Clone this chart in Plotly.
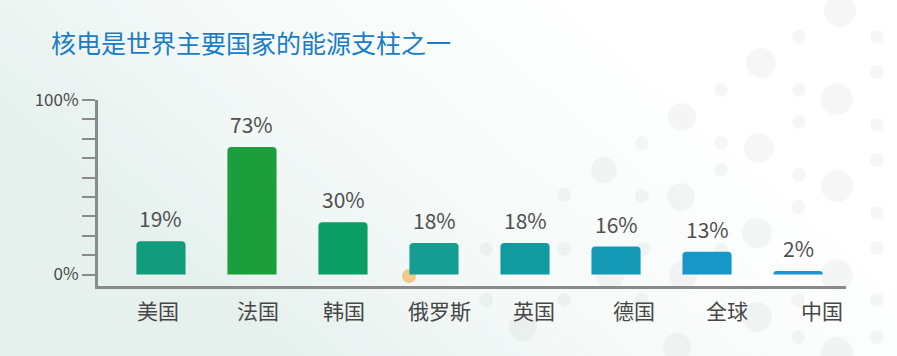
import base64
import plotly.graph_objects as go

# ---- data ----
countries = ["美国", "法国", "韩国", "俄罗斯", "英国", "德国", "全球", "中国"]
shares = [19, 73, 30, 18, 18, 16, 13, 2]
value_labels = ["19%", "73%", "30%", "18%", "18%", "16%", "13%", "2%"]
y_tick_vals = [0, 100]
y_tick_text = ["0%", "100%"]
title_text = "核电是世界主要国家的能源支柱之一"

# ---- style ----
bar_colors = ["#139C7C", "#1C9E3C", "#0A9E64", "#159D92",
              "#119AA0", "#1499B6", "#1796C8", "#1F91D6"]
label_xshift = [-3, 6, 1, 5, 9, 18, 20, 24]
FONT = "Noto Sans CJK SC, Noto Sans, sans-serif"
W, H = 897, 356

# decorative background (gradient + faint dots)
dots = [
    (840, 11, 16), (799, 37, 7), (877, 37, 7), (761, 63, 15), (877, 72, 7),
    (721, 90, 7), (799, 90, 7), (837, 99, 16), (682, 117, 14), (799, 122, 7),
    (877, 125, 7), (642, 143, 7), (721, 143, 7), (759, 148, 15), (604, 170, 13),
    (721, 170, 7), (877, 160, 7), (799, 175, 7), (837, 186, 16), (564, 195, 7),
    (642, 196, 7), (681, 197, 14), (798, 207, 7), (877, 213, 7), (486, 249, 7),
    (564, 249, 7), (643, 249, 7), (757, 233, 15), (837, 275, 16), (877, 248, 7),
    (683, 275, 14), (610, 275, 14), (486, 300, 7), (564, 300, 7), (717, 313, 7),
    (757, 317, 15), (798, 300, 7), (877, 300, 7), (523, 327, 14), (677, 347, 14),
    (798, 337, 7), (837, 353, 16), (877, 337, 7), (642, 300, 7), (721, 250, 7),
]
circles = "".join(
    f'<circle cx="{x}" cy="{y}" r="{r}" fill="#000" fill-opacity="0.035"/>'
    for x, y, r in dots
)
svg = (
    f'<svg xmlns="http://www.w3.org/2000/svg" width="{W}" height="{H}" viewBox="0 0 {W} {H}">'
    '<defs><linearGradient id="g" x1="0" y1="0.3" x2="0.65" y2="0">'
    '<stop offset="0" stop-color="#E6F1EE"/>'
    '<stop offset="0.4" stop-color="#F4F9F8"/>'
    '<stop offset="1" stop-color="#FFFFFF"/>'
    '</linearGradient></defs>'
    f'<rect width="{W}" height="{H}" fill="url(#g)"/>'
    f'{circles}'
    '<circle cx="409" cy="276" r="7" fill="#F2C98A"/>'
    '</svg>'
)
bg_uri = "data:image/svg+xml;base64," + base64.b64encode(svg.encode("utf-8")).decode()

# plot area geometry in pixels
x_left, x_right = 98, 846
y_top, y_bottom = 100, 286
zero_px = 274.5
px_per_pct = (zero_px - y_top) / 100.0
y_min = -(y_bottom - zero_px) / px_per_pct

fig = go.Figure()
fig.add_trace(go.Bar(
    x=countries, y=shares,
    marker=dict(color=bar_colors, line=dict(width=0)),
    width=0.54,
    hoverinfo="skip",
))

annotations = []
for c, v, t in zip(countries, shares, value_labels):
    annotations.append(dict(
        x=c, y=v, xref="x", yref="y", text=t, showarrow=False,
        yanchor="bottom", yshift=6,
        font=dict(family=FONT, size=21, color="#4F4F4F"),
    ))
for c, dx in zip(countries, label_xshift):
    annotations.append(dict(
        x=c, y=1 - 310 / H, xref="x", yref="paper",
        yanchor="middle", text=c, showarrow=False, xshift=dx,
        font=dict(family=FONT, size=21, color="#474747"),
    ))
annotations.append(dict(
    x=49 / W, y=1 - 42 / H, xref="paper", yref="paper",
    xanchor="left", yanchor="middle", text=title_text, showarrow=False,
    font=dict(family=FONT, size=25, color="#1A7DC8"),
))

fig.update_layout(
    width=W, height=H,
    margin=dict(l=0, r=0, t=0, b=0, pad=0, autoexpand=False),
    paper_bgcolor="#FFFFFF",
    plot_bgcolor="rgba(0,0,0,0)",
    showlegend=False,
    barcornerradius=4,
    images=[dict(source=bg_uri, xref="paper", yref="paper", x=0, y=1,
                 sizex=1, sizey=1, sizing="stretch", layer="below",
                 xanchor="left", yanchor="top")],
    annotations=annotations,
    xaxis=dict(
        domain=[x_left / W, x_right / W],
        range=[-0.692, 7.527],
        showticklabels=False, ticks="", automargin=False,
        showline=True, linecolor="#8A8A8A", linewidth=3,
        showgrid=False, zeroline=False, fixedrange=True,
    ),
    yaxis=dict(
        domain=[(H - y_bottom) / H, (H - y_top) / H],
        range=[y_min, 100], automargin=False,
        tickvals=y_tick_vals, ticktext=y_tick_text,
        ticks="outside", ticklen=13, tickwidth=2, tickcolor="#8A8A8A",
        minor=dict(dtick=100 / 9, tick0=0, ticks="outside", ticklen=13,
                   tickwidth=2, tickcolor="#8A8A8A", showgrid=False),
        tickfont=dict(family=FONT, size=17, color="#4A4A4A"),
        showline=True, linecolor="#8A8A8A", linewidth=3,
        showgrid=False, zeroline=False, fixedrange=True,
    ),
)

fig.write_html(
    "out.html",
    config={"displayModeBar": False},
    post_script="document.body.style.margin='0';document.body.style.overflow='hidden';",
)
